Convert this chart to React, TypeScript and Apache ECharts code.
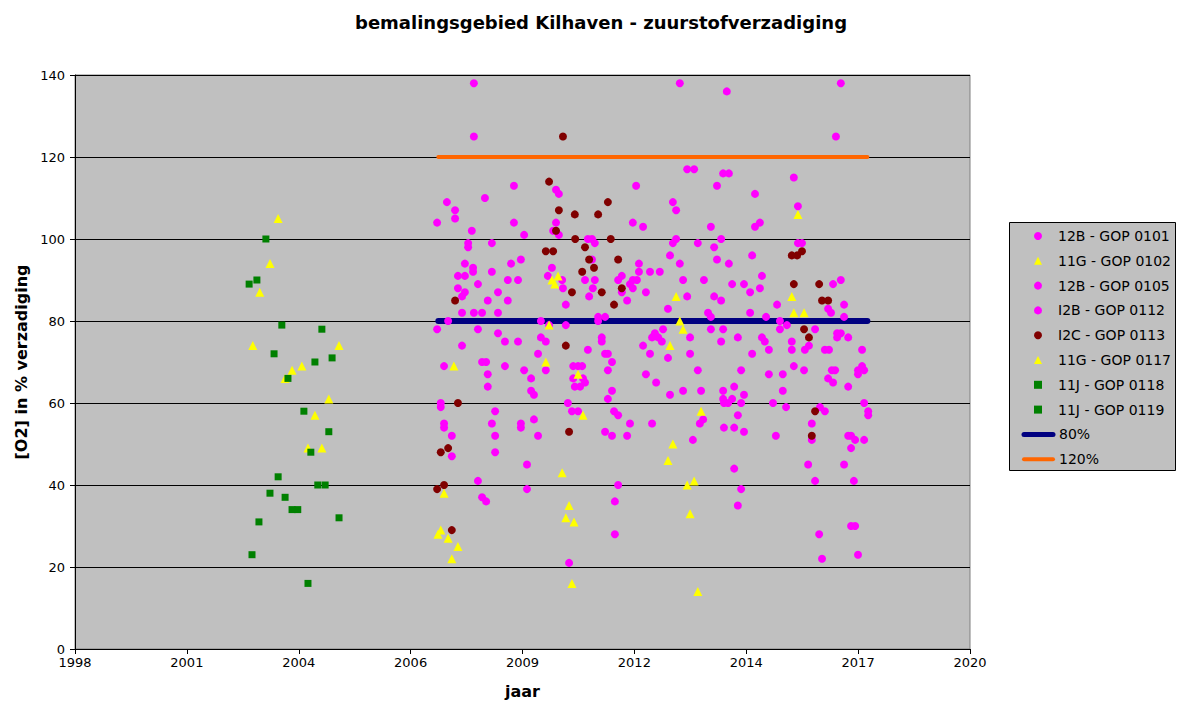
import React, { useEffect, useRef } from "react";
import * as echarts from "echarts";

// [decimal year, O2 saturation %]
const gop0101: number[][] = [
  [2008.32, 138], [2008.32, 125], [2009.30, 113], [2008.59, 110], [2007.66, 109], [2007.86, 107], [2007.86, 105],
  [2007.42, 104], [2009.30, 104], [2008.27, 102], [2009.55, 101], [2008.18, 99], [2008.18, 98], [2008.76, 99],
  [2010.33, 112], [2010.40, 111], [2010.33, 104], [2010.26, 102], [2010.40, 101],
  [2008.10, 94], [2008.30, 93], [2009.23, 94], [2009.47, 95], [2007.93, 91], [2008.10, 91], [2008.30, 92], [2008.76, 92],
  [2009.15, 90], [2009.40, 90], [2010.23, 93], [2010.13, 91], [2010.48, 90], [2010.50, 88], [2008.42, 89], [2007.93, 88],
  [2008.10, 87], [2008.03, 86], [2008.91, 87], [2008.66, 85], [2009.15, 85], [2010.57, 84], [2008.03, 82], [2008.32, 82],
  [2008.52, 82], [2008.91, 82], [2007.69, 80], [2007.42, 78], [2008.42, 78], [2009.96, 80], [2010.16, 79], [2010.57, 79],
  [2008.91, 77], [2009.08, 75], [2009.40, 75], [2009.96, 76], [2010.08, 75], [2008.03, 74], [2009.89, 72], [2010.08, 68],
  [2007.59, 69], [2008.52, 70], [2008.62, 70], [2009.08, 69], [2008.66, 67], [2009.55, 68], [2009.72, 66], [2008.66, 64],
  [2009.72, 63], [2009.79, 62], [2010.75, 69], [2010.75, 66], [2007.51, 60], [2007.51, 59], [2010.62, 60], [2010.72, 58],
  [2008.84, 58], [2009.79, 56], [2008.76, 55], [2007.59, 55], [2009.47, 55],
  [2007.59, 54], [2007.78, 52], [2008.84, 52], [2009.47, 54], [2009.89, 52], [2007.78, 47], [2008.84, 48], [2009.62, 45],
  [2008.42, 41], [2009.62, 39], [2008.52, 37], [2008.62, 36], [2010.65, 21],
];

const gop0105: number[][] = [
  [2013.36, 138], [2014.51, 136], [2013.54, 117], [2013.71, 117], [2014.42, 116], [2014.56, 116], [2012.29, 113],
  [2014.27, 113], [2013.19, 109], [2013.27, 107], [2012.21, 104], [2012.46, 103], [2014.12, 103], [2011.11, 100],
  [2011.21, 100], [2011.28, 99], [2013.19, 99], [2013.27, 100], [2013.80, 99], [2014.37, 100], [2014.20, 98],
  [2011.21, 95], [2012.36, 94], [2013.12, 96], [2013.36, 94], [2014.27, 95], [2011.94, 91], [2011.85, 90], [2012.21, 90],
  [2012.31, 90], [2012.14, 89], [2012.36, 92], [2012.63, 92], [2012.87, 92], [2013.44, 90], [2013.95, 90], [2011.04, 90],
  [2011.28, 90], [2011.14, 86], [2011.23, 88], [2011.94, 87], [2012.21, 88], [2012.53, 87], [2012.07, 85], [2013.54, 86],
  [2014.20, 86], [2014.37, 85], [2013.07, 83], [2014.05, 82], [2014.12, 81], [2011.36, 81], [2011.53, 81], [2011.36, 80],
  [2014.12, 78], [2014.42, 78], [2012.75, 77], [2012.68, 76], [2012.83, 76], [2012.92, 75], [2012.95, 78], [2011.45, 76],
  [2011.45, 75], [2013.61, 76], [2014.37, 75], [2012.46, 74], [2011.11, 73], [2011.53, 72], [2011.60, 72], [2012.63, 72],
  [2013.61, 72], [2011.70, 70], [2013.07, 71], [2010.87, 69], [2010.97, 69], [2011.60, 68], [2013.80, 68], [2010.99, 66],
  [2011.04, 65], [2010.79, 64], [2010.92, 64], [2012.53, 67], [2012.78, 65], [2011.70, 63], [2011.60, 61], [2013.12, 62],
  [2013.44, 63], [2013.88, 63], [2014.42, 63], [2014.42, 61], [2010.87, 58], [2011.75, 58], [2011.85, 57], [2012.14, 55],
  [2012.68, 55], [2013.93, 56], [2013.85, 55], [2014.44, 60],
  [2011.53, 53], [2011.70, 52], [2012.07, 52], [2014.44, 54], [2013.68, 51], [2011.85, 40], [2011.77, 36], [2011.77, 28],
];

const gop0112: number[][] = [
  [2017.30, 138], [2017.18, 125], [2016.15, 115], [2015.20, 111], [2016.25, 108], [2015.32, 104], [2015.20, 103],
  [2016.25, 99], [2016.35, 99],
  [2015.13, 96], [2014.56, 94], [2015.37, 91], [2014.64, 89], [2014.93, 89], [2015.32, 88], [2015.08, 87], [2017.11, 89],
  [2017.30, 90], [2015.74, 84], [2016.99, 83], [2017.06, 82], [2017.38, 84], [2015.08, 82], [2015.47, 81], [2017.38, 81],
  [2015.81, 80], [2015.81, 78], [2015.98, 79], [2016.67, 78], [2014.78, 76], [2015.37, 76], [2015.44, 75], [2015.54, 73],
  [2016.10, 75], [2016.10, 73], [2016.42, 73], [2016.52, 74], [2016.91, 73], [2017.01, 73], [2017.21, 77], [2017.30, 77],
  [2017.21, 76], [2017.48, 76], [2017.82, 73], [2015.13, 72], [2016.15, 69], [2016.40, 68], [2014.86, 68], [2015.54, 67],
  [2015.88, 67], [2017.08, 68], [2017.16, 68], [2016.99, 66], [2017.11, 65], [2017.72, 68], [2017.82, 69], [2017.72, 67],
  [2017.87, 68], [2017.48, 64], [2015.88, 63], [2014.69, 64], [2014.93, 62], [2014.64, 61], [2014.86, 60], [2014.54, 60],
  [2015.64, 60], [2015.96, 59], [2016.79, 59], [2016.91, 58], [2017.87, 60], [2017.97, 58], [2017.97, 57], [2014.78, 57],
  [2016.59, 55],
  [2014.69, 54], [2014.93, 53], [2015.71, 52], [2016.59, 51], [2017.48, 52], [2017.55, 52], [2017.65, 51], [2017.87, 51],
  [2017.55, 49], [2014.69, 44], [2016.50, 45], [2017.38, 45], [2016.67, 41], [2017.62, 41], [2014.86, 39], [2014.78, 35],
  [2017.55, 30], [2017.65, 30], [2016.77, 28], [2016.84, 22], [2017.72, 23],
];

const gop0113: number[][] = [
  [2010.50, 125], [2010.16, 114], [2010.40, 107], [2010.33, 102], [2010.80, 100], [2010.79, 106], [2010.08, 97],
  [2010.26, 97], [2011.60, 109], [2011.36, 106], [2011.67, 100], [2011.04, 98], [2010.72, 87], [2007.86, 85],
  [2010.57, 74], [2007.93, 60], [2011.85, 95], [2010.97, 92], [2011.45, 87], [2011.94, 88], [2011.75, 84],
  [2011.14, 95], [2011.26, 93], [2016.10, 96], [2016.23, 96], [2016.35, 97], [2016.15, 89], [2016.77, 89],
  [2016.84, 85], [2016.99, 85], [2016.40, 78], [2016.52, 76], [2016.67, 58], [2010.65, 53], [2007.51, 48],
  [2007.69, 49], [2007.42, 39], [2007.59, 40], [2007.78, 29], [2016.59, 52],
];

const gop0102: number[][] = [
  [2003.53, 105], [2003.33, 94], [2003.08, 87], [2002.91, 74], [2005.02, 74], [2004.11, 69], [2003.87, 68],
  [2003.70, 66], [2004.77, 61], [2004.43, 57], [2004.26, 49], [2004.60, 49],
];

const gop0117: number[][] = [
  [2016.25, 106], [2010.23, 90], [2010.30, 89], [2010.38, 91], [2010.16, 79], [2007.83, 69], [2010.08, 70],
  [2013.27, 86], [2013.36, 80], [2013.44, 78], [2013.12, 74], [2010.87, 67], [2010.99, 57], [2013.88, 58],
  [2016.10, 86], [2016.15, 82], [2016.40, 82], [2007.59, 38], [2010.48, 43], [2010.65, 35], [2010.57, 32],
  [2010.77, 31], [2007.44, 28], [2007.51, 29], [2007.69, 27], [2007.93, 25], [2007.78, 22], [2010.72, 16],
  [2013.19, 50], [2013.07, 46], [2013.54, 40], [2013.71, 41], [2013.61, 33], [2013.80, 14],
];

const gop0118: number[][] = [
  [2003.23, 100], [2002.82, 89], [2003.01, 90], [2003.62, 79], [2004.60, 78], [2003.43, 72], [2004.85, 71],
  [2004.43, 70], [2003.77, 66], [2004.16, 58], [2004.77, 53],
];

const gop0119: number[][] = [
  [2004.33, 48], [2003.53, 42], [2004.50, 40], [2004.68, 40], [2003.33, 38], [2003.70, 37], [2003.87, 34],
  [2004.01, 34], [2005.02, 32], [2003.06, 31], [2002.89, 23], [2004.26, 16],
];

const refYears: number[] = [2007.45, 2017.95];
const pct80: number[] = [80, 80];
const pct120: number[] = [120, 120];

const pointNames = [
  "12B - GOP 0101",
  "11G - GOP 0102",
  "12B - GOP 0105",
  "I2B - GOP 0112",
  "I2C - GOP 0113",
  "11G - GOP 0117",
  "11J - GOP 0118",
  "11J - GOP 0119",
];
const lineNames = ["80%", "120%"];
const lineColors = ["#000080", "#FF6600"];
const lineWidths = [6, 4];

const FONT = "DejaVu Sans";

// decimal year -> spreadsheet date serial
const toSerial = (y: number) => 25569 + (y - 1970) * 365.25;
const serialYear = (s: number) =>
  new Date(Date.UTC(1899, 11, 30) + s * 86400000).getUTCFullYear();

const pts = (arr: number[][]) => arr.map(([y, v]) => [toSerial(y), v]);
const ref = (vals: number[]) => refYears.map((y, i) => [toSerial(y), vals[i]]);

const scatter = (name: string, data: number[][], symbol: string, size: number, color: string) => ({
  name,
  type: "scatter",
  symbol,
  symbolSize: size,
  itemStyle: { color, opacity: 1 },
  data: pts(data),
  z: 3,
});

const ROW = 24.8;
const ITEM_H = 17;
const LEG_TOP = 236 - ITEM_H / 2;

export default function App() {
  const ref1 = useRef<HTMLDivElement>(null);
  useEffect(() => {
    const chart = echarts.init(ref1.current!, null, { renderer: "svg" });
    const legendText = { fontFamily: FONT, fontSize: 14, color: "#000", lineHeight: ITEM_H };
    const legendLineIcons = lineNames.map((_, i) => ({
      type: "line",
      z: 10,
      shape: { x1: 1024, y1: 236 + (8 + i) * ROW, x2: 1053, y2: 236 + (8 + i) * ROW },
      style: { stroke: lineColors[i], lineWidth: i === 0 ? 5 : 4, lineCap: "round" },
    }));
    chart.setOption({
      animation: false,
      backgroundColor: "#ffffff",
      title: {
        text: "bemalingsgebied Kilhaven - zuurstofverzadiging",
        left: 596,
        top: 8,
        textAlign: "center",
        textStyle: { fontFamily: FONT, fontSize: 18, fontWeight: "bold", color: "#000" },
      },
      graphic: [
        {
          type: "rect",
          z: 0,
          shape: { x: 1009.5, y: 222.5, width: 166, height: 248 },
          style: { fill: "#C0C0C0", stroke: "#000", lineWidth: 1 },
        },
        ...legendLineIcons,
      ],
      grid: {
        left: 75,
        top: 75,
        width: 895,
        height: 574,
        show: true,
        backgroundColor: "#C0C0C0",
        borderColor: "#808080",
        borderWidth: 1,
        outerBoundsMode: "none",
      },
      legend: [
        {
          orient: "vertical",
          left: 1034,
          top: LEG_TOP,
          itemWidth: 8,
          itemHeight: 8,
          itemGap: ROW - ITEM_H,
          padding: 0,
          textStyle: { ...legendText, padding: [0, 0, 0, 11] },
          data: pointNames,
          z: 5,
        },
        {
          orient: "vertical",
          left: 1021,
          top: LEG_TOP + 8 * ROW,
          itemWidth: 33,
          itemHeight: 8,
          itemGap: ROW - ITEM_H,
          padding: 0,
          textStyle: legendText,
          data: lineNames.map((n) => ({ name: n, icon: "none" })),
          z: 5,
        },
      ],
      xAxis: {
        type: "value",
        min: 36000,
        max: 44000,
        interval: 1000,
        name: "jaar",
        nameLocation: "middle",
        nameGap: 34,
        nameTextStyle: { fontFamily: FONT, fontSize: 16, fontWeight: "bold", color: "#000" },
        axisLine: { show: true, onZero: false, lineStyle: { color: "#000" } },
        axisTick: { show: true, length: 5, lineStyle: { color: "#000" } },
        axisLabel: {
          formatter: (v: number) => String(serialYear(v)),
          fontFamily: FONT,
          fontSize: 13,
          color: "#000",
          margin: 7,
        },
        splitLine: { show: false },
      },
      yAxis: {
        type: "value",
        min: 0,
        max: 140,
        interval: 20,
        name: "[O2] in % verzadiging",
        nameLocation: "middle",
        nameGap: 46,
        nameTextStyle: { fontFamily: FONT, fontSize: 16, fontWeight: "bold", color: "#000" },
        axisLine: { show: true, lineStyle: { color: "#000" } },
        axisTick: { show: true, length: 5, lineStyle: { color: "#000" } },
        axisLabel: { fontFamily: FONT, fontSize: 13, color: "#000", margin: 10 },
        splitLine: { show: true, lineStyle: { color: "#000", width: 1 } },
      },
      series: [
        scatter(pointNames[0], gop0101, "circle", 8, "#FF00FF"),
        scatter(pointNames[1], gop0102, "triangle", 9, "#FFFF00"),
        scatter(pointNames[2], gop0105, "circle", 8, "#FF00FF"),
        scatter(pointNames[3], gop0112, "circle", 8, "#FF00FF"),
        scatter(pointNames[4], gop0113, "circle", 8, "#800000"),
        scatter(pointNames[5], gop0117, "triangle", 9, "#FFFF00"),
        scatter(pointNames[6], gop0118, "rect", 7, "#008000"),
        scatter(pointNames[7], gop0119, "rect", 7, "#008000"),
        {
          name: lineNames[0],
          type: "line",
          symbol: "none",
          data: ref(pct80),
          lineStyle: { color: lineColors[0], width: lineWidths[0], cap: "round" },
          itemStyle: { color: lineColors[0] },
          z: 1,
        },
        {
          name: lineNames[1],
          type: "line",
          symbol: "none",
          data: ref(pct120),
          lineStyle: { color: lineColors[1], width: lineWidths[1], cap: "round" },
          itemStyle: { color: lineColors[1] },
          z: 1,
        },
      ],
    });
    return () => chart.dispose();
  }, []);
  return (
    <div
      ref={ref1}
      style={{ position: "absolute", left: 0, top: 0, width: 1179, height: 702 }}
    />
  );
}
